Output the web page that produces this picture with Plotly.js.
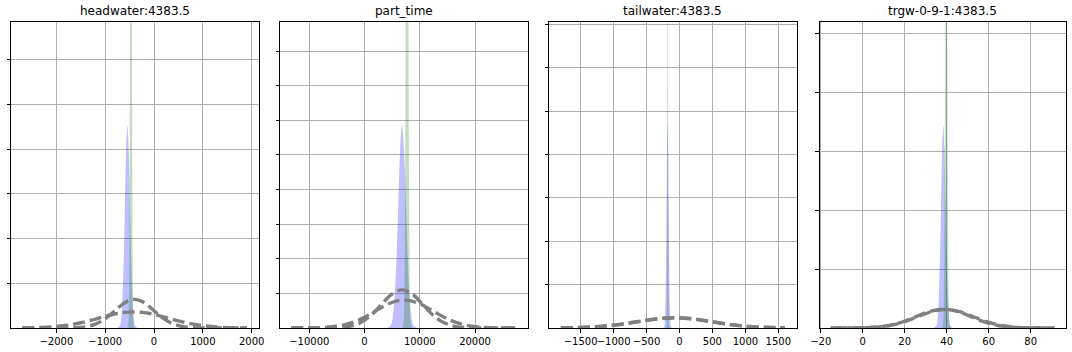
<!DOCTYPE html>
<html>
<head>
<meta charset="utf-8">
<script src="https://cdn.plot.ly/plotly-3.0.1.min.js"></script>
<style>
html,body{margin:0;padding:0;background:#fff;}
#chart{width:1072px;height:352px;}
</style>
</head>
<body>
<div id="chart"></div>
<script>
// ---------- titles ----------
const panelTitles = ["headwater:4383.5", "part_time", "tailwater:4383.5", "trgw-0-9-1:4383.5"];

// ---------- x tick values / labels ----------
const xTickVals1 = [-2000, -1000, 0, 1000, 2000];
const xTickText1 = ["\u22122000", "\u22121000", "0", "1000", "2000"];
const xTickVals2 = [-10000, 0, 10000, 20000];
const xTickText2 = ["\u221210000", "0", "10000", "20000"];
const xTickVals3 = [-1500, -1000, -500, 0, 500, 1000, 1500];
const xTickText3 = ["\u22121500", "\u22121000", "\u2212500", "0", "500", "1000", "1500"];
const xTickVals4 = [-20, 0, 20, 40, 60, 80];
const xTickText4 = ["\u221220", "0", "20", "40", "60", "80"];

// ---------- panel 1: headwater ----------
const p1PriorAx = [-2700, -2000, -1600, -1400, -1200, -1100, -1000, -900, -800, -700, -600, -500, -400, -300, -200, -100, 0, 100, 200, 300, 400, 600, 800, 1000, 1400, 1900];
const p1PriorAy = [0, 0.0002, 0.007, 0.028, 0.087, 0.138, 0.208, 0.293, 0.388, 0.483, 0.565, 0.62, 0.64, 0.62, 0.565, 0.483, 0.388, 0.293, 0.208, 0.138, 0.087, 0.028, 0.007, 0.0014, 0.0001, 0];
const p1PriorBx = [-2700, -2200, -1860, -1680, -1500, -1320, -1140, -960, -780, -600, -420, -240, -60, 120, 300, 480, 660, 840, 1020, 1380, 1740, 1900];
const p1PriorBy = [0.0024, 0.017, 0.049, 0.078, 0.117, 0.165, 0.218, 0.272, 0.318, 0.349, 0.36, 0.349, 0.318, 0.272, 0.218, 0.165, 0.117, 0.078, 0.049, 0.016, 0.004, 0.0027];
const p1PostX = [-753, -701, -675, -649, -623, -597, -571, -545, -519, -493, -467, -441, -415, -389, -337];
const p1PostY = [0.0015, 0.05, 0.198, 0.61, 1.47, 2.74, 3.99, 4.52, 3.99, 2.74, 1.47, 0.61, 0.198, 0.05, 0.0015];
const p1EnsX = [-536, -520, -512, -504, -496, -488, -480, -472, -464, -456, -448, -440, -432, -424, -408];
const p1EnsY = [0.005, 0.163, 0.645, 1.99, 4.77, 8.92, 12.97, 14.7, 12.97, 8.92, 4.77, 1.99, 0.645, 0.163, 0.005];

// ---------- panel 2: part_time ----------
const p2PriorAx = [-13300, -8400, -4600, -2700, -800, 1100, 3000, 4900, 6800, 8700, 10600, 12500, 14400, 16300, 18200, 22000, 27400];
const p2PriorAy = [0, 0.0004, 0.012, 0.048, 0.149, 0.357, 0.667, 0.971, 1.10, 0.971, 0.667, 0.357, 0.149, 0.048, 0.012, 0.0004, 0];
const p2PriorBx = [-13300, -8400, -5800, -3200, -600, 2000, 4600, 7200, 9800, 12400, 15000, 17600, 20200, 22800, 27400];
const p2PriorBy = [0.0003, 0.009, 0.036, 0.110, 0.263, 0.491, 0.715, 0.81, 0.715, 0.491, 0.263, 0.110, 0.036, 0.009, 0.0005];
const p2PostX = [4000, 4700, 5050, 5400, 5750, 6100, 6450, 6800, 7150, 7500, 7850, 8200, 8550, 8900, 9600];
const p2PostY = [0.002, 0.065, 0.256, 0.79, 1.896, 3.54, 5.15, 5.84, 5.15, 3.54, 1.896, 0.79, 0.256, 0.065, 0.002];
const p2EnsX = [6900, 7100, 7200, 7300, 7400, 7500, 7600, 7700, 7800, 7900, 8000, 8100, 8200, 8300, 8500];
const p2EnsY = [0.007, 0.227, 0.896, 2.76, 6.62, 12.37, 18.0, 20.4, 18.0, 12.37, 6.62, 2.76, 0.896, 0.227, 0.007];

// ---------- panel 3: tailwater ----------
const p3PriorAx = [-1800, -1460, -1180, -900, -620, -340, -60, 220, 500, 780, 1060, 1340, 1600];
const p3PriorAy = [0.002, 0.0105, 0.032, 0.078, 0.146, 0.212, 0.24, 0.212, 0.146, 0.078, 0.032, 0.0105, 0.003];
const p3PriorBx = [-1800, -1565, -1270, -975, -680, -385, -90, 205, 500, 795, 1090, 1385, 1600];
const p3PriorBy = [0.0034, 0.0101, 0.031, 0.0747, 0.1395, 0.203, 0.23, 0.203, 0.1395, 0.0747, 0.031, 0.0101, 0.0038];
const p3PostX = [-244, -228, -220, -212, -204, -196, -188, -180, -172, -164, -156, -148, -140, -132, -116];
const p3PostY = [0.0016, 0.052, 0.206, 0.636, 1.526, 2.85, 4.15, 4.7, 4.15, 2.85, 1.526, 0.636, 0.206, 0.052, 0.0016];
const p3EnsX = [-198, -193, -190.5, -188, -185.5, -183, -180.5, -178, -175.5, -173, -170.5, -168, -165.5, -163, -158];
const p3EnsY = [0.005, 0.167, 0.66, 2.03, 4.87, 9.1, 13.24, 15, 13.24, 9.1, 4.87, 2.03, 0.66, 0.167, 0.005];

// ---------- panel 4: trgw-0-9-1 ----------
const p4PriorAx = [-15.4, -7, -0.5, 6, 12.5, 19, 25.5, 32, 38.5, 45, 51.5, 58, 64.5, 71, 77.5, 84, 91.3];
const p4PriorAy = [0.0001, 0.0007, 0.0036, 0.014, 0.043, 0.104, 0.194, 0.282, 0.32, 0.282, 0.194, 0.104, 0.043, 0.014, 0.0036, 0.0007, 0.0001];
const p4PriorBx = [-15.4, -0.4, 6.25, 12.9, 19.55, 26.2, 32.85, 39.5, 46.15, 52.8, 59.45, 66.1, 72.75, 79.4, 91.3];
const p4PriorBy = [0.0001, 0.0035, 0.0138, 0.0426, 0.102, 0.191, 0.278, 0.315, 0.278, 0.191, 0.102, 0.0426, 0.0138, 0.0035, 0.0001];
const p4PostX = [34.0, 35.1, 35.65, 36.2, 36.75, 37.3, 37.85, 38.4, 38.95, 39.5, 40.05, 40.6, 41.15, 41.7, 42.8];
const p4PostY = [0.001, 0.038, 0.15, 0.464, 1.114, 2.08, 3.03, 3.43, 3.03, 2.08, 1.114, 0.464, 0.15, 0.038, 0.001];
const p4EnsX = [37.8, 38.3, 38.55, 38.8, 39.05, 39.3, 39.55, 39.8, 40.05, 40.3, 40.55, 40.8, 41.05, 41.3, 41.8];
const p4EnsY = [0.0025, 0.084, 0.33, 1.02, 2.45, 4.58, 6.66, 7.55, 6.66, 4.58, 2.45, 1.02, 0.33, 0.084, 0.0025];

// ---------- layout helpers (style only) ----------
const panels = [
  {ax: p1PriorAx, ay: p1PriorAy, bx: p1PriorBx, by: p1PriorBy, px: p1PostX, py: p1PostY, ex: p1EnsX, ey: p1EnsY,
   tv: xTickVals1, tt: xTickText1, xr: [-2930, 2150], yr: [0, 6.85], dom: [11, 259], dashB: "12px,5px"},
  {ax: p2PriorAx, ay: p2PriorAy, bx: p2PriorBx, by: p2PriorBy, px: p2PostX, py: p2PostY, ex: p2EnsX, ey: p2EnsY,
   tv: xTickVals2, tt: xTickText2, xr: [-15300, 29530], yr: [0, 8.84], dom: [280, 527.7], dashB: "12px,5px"},
  {ax: p3PriorAx, ay: p3PriorAy, bx: p3PriorBx, by: p3PriorBy, px: p3PostX, py: p3PostY, ex: p3EnsX, ey: p3EnsY,
   tv: xTickVals3, tt: xTickText3, xr: [-1980, 1779], yr: [0, 7.06], dom: [549, 796.7], dashB: "12px,5px"},
  {ax: p4PriorAx, ay: p4PriorAy, bx: p4PriorBx, by: p4PriorBy, px: p4PostX, py: p4PostY, ex: p4EnsX, ey: p4EnsY,
   tv: xTickVals4, tt: xTickText4, xr: [-20.5, 96.7], yr: [0, 5.19], dom: [819.7, 1065.7], dashB: "0px,6px,11px,0px"}
];

const W = 1072, H = 352;
const yDom = [1 - 328 / H, 1 - 22 / H];
const traces = [];
const layout = {
  width: W, height: H,
  margin: {l: 0, r: 0, t: 0, b: 0},
  paper_bgcolor: "#ffffff", plot_bgcolor: "#ffffff",
  showlegend: false,
  font: {family: "DejaVu Sans", size: 10, color: "#000000"},
  annotations: []
};

panels.forEach((p, i) => {
  const n = i === 0 ? "" : String(i + 1);
  const xa = "x" + n, ya = "y" + n;
  traces.push({x: p.px, y: p.py, xaxis: xa, yaxis: ya, type: "scatter", mode: "lines",
    line: {width: 0, shape: "spline", color: "rgba(0,0,255,0)"}, fill: "tozeroy", fillcolor: "rgba(0,0,255,0.25)", hoverinfo: "skip"});
  traces.push({x: p.ex, y: p.ey, xaxis: xa, yaxis: ya, type: "scatter", mode: "lines",
    line: {width: 0, shape: "spline", color: "rgba(0,128,0,0)"}, fill: "tozeroy", fillcolor: "rgba(0,128,0,0.25)", hoverinfo: "skip"});
  traces.push({x: p.ax, y: p.ay, xaxis: xa, yaxis: ya, type: "scatter", mode: "lines",
    line: {width: 3.4, color: "#808080", dash: "12px,5px", shape: "spline"}, hoverinfo: "skip"});
  traces.push({x: p.bx, y: p.by, xaxis: xa, yaxis: ya, type: "scatter", mode: "lines",
    line: {width: 3.4, color: "#808080", dash: p.dashB, shape: "spline"}, hoverinfo: "skip"});

  layout["xaxis" + n] = {
    domain: [p.dom[0] / W, p.dom[1] / W], anchor: ya, range: p.xr,
    tickmode: "array", tickvals: p.tv, ticktext: p.tt, tickangle: 0,
    ticks: "outside", ticklen: 3.5, tickwidth: 1, tickcolor: "#000",
    showline: true, linecolor: "#000", linewidth: 1, mirror: true,
    showgrid: true, gridcolor: "#b0b0b0", gridwidth: 1, zeroline: false,
    tickfont: {family: "DejaVu Sans", size: 10, color: "#000"}
  };
  const yt = [];
  for (let k = 1; k <= Math.floor(p.yr[1]); k++) yt.push(k);
  layout["yaxis" + n] = {
    domain: yDom, anchor: xa, range: p.yr,
    tickmode: "array", tickvals: yt, showticklabels: false,
    ticks: "outside", ticklen: 3.5, tickwidth: 1, tickcolor: "#000",
    showline: true, linecolor: "#000", linewidth: 1, mirror: true,
    showgrid: true, gridcolor: "#b0b0b0", gridwidth: 1, zeroline: false
  };
  layout.annotations.push({
    text: panelTitles[i], xref: "paper", yref: "paper",
    x: (p.dom[0] + p.dom[1]) / 2 / W, y: 1 - 11 / H, xanchor: "center", yanchor: "middle",
    showarrow: false, font: {family: "DejaVu Sans", size: 12, color: "#000"}
  });
});

Plotly.newPlot("chart", traces, layout, {displayModeBar: false, staticPlot: true});
</script>
</body>
</html>
